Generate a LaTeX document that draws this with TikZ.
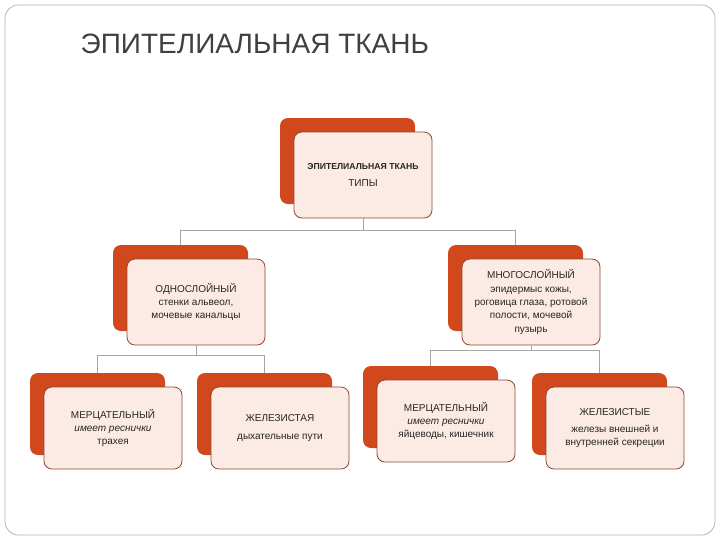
\documentclass[tikz,border=0pt]{standalone}
\usepackage{fontspec}
\setmainfont{Liberation Sans}
\begin{document}
\begin{tikzpicture}[x=0.75pt,y=-0.75pt,
 front/.style={draw=brn, line width=0.6pt, fill=pnk, rounded corners=6pt},
 conn/.style={draw=gray!70, line width=0.5pt},
 txt/.style={align=center, font=\fontsize{7.5}{10}\selectfont, text=black!85}]
\definecolor{ora}{RGB}{208,72,28}
\definecolor{brn}{RGB}{140,70,50}
\definecolor{pnk}{RGB}{252,234,228}
\useasboundingbox (0,0) rectangle (720,540);
\draw[gray!60, rounded corners=10pt, line width=0.6pt] (5,5) rectangle (715,535);
\node[anchor=west, font=\fontsize{21}{24}\selectfont, text=black!75] (title) at (76,44) {ЭПИТЕЛИАЛЬНАЯ ТКАНЬ};
\newcommand{\unit}[6]{%
 \fill[ora, rounded corners=6pt] (#1,#2) rectangle ++(135,#4);
 \draw[front] (#1+14,#2+14) rectangle ++(138,#4);
 \node[txt] (#5) at (#1+83,#2+14+#4/2) {#6};
 \coordinate (#5t) at (#1+67,#2);
 \coordinate (#5b) at (#1+83,#2+14+#4);}
\unit{280}{118}{0}{86}{top}{\textbf{\fontsize{6.5}{8}\selectfont ЭПИТЕЛИАЛЬНАЯ ТКАНЬ}\\[3pt]ТИПЫ}
\unit{113}{245}{0}{86}{one}{ОДНОСЛОЙНЫЙ\\стенки альвеол,\\мочевые канальцы}
\unit{448}{245}{0}{86}{many}{МНОГОСЛОЙНЫЙ\\эпидермыс кожы,\\роговица глаза, ротовой\\полости, мочевой\\пузырь}
\unit{30}{373}{0}{82}{a}{МЕРЦАТЕЛЬНЫЙ\\\textit{имеет реснички}\\трахея}
\unit{197}{373}{0}{82}{b}{ЖЕЛЕЗИСТАЯ\\[3pt]дыхательные пути}
\unit{363}{366}{0}{82}{c}{МЕРЦАТЕЛЬНЫЙ\\\textit{имеет реснички}\\яйцеводы, кишечник}
\unit{532}{373}{0}{82}{d}{ЖЕЛЕЗИСТЫЕ\\[3pt]железы внешней и\\внутренней секреции}
\draw[conn] (topb) -- ++(0,12) -| (onet);
\draw[conn] (topb) ++(0,12) -| (manyt);
\draw[conn] (oneb) -- ++(0,10) -| (at);
\draw[conn] (oneb) ++(0,10) -| (bt);
\draw[conn] (manyb) -- ++(0,5) -| (ct);
\draw[conn] (manyb) ++(0,5) -| (dt);
\end{tikzpicture}
\end{document}
